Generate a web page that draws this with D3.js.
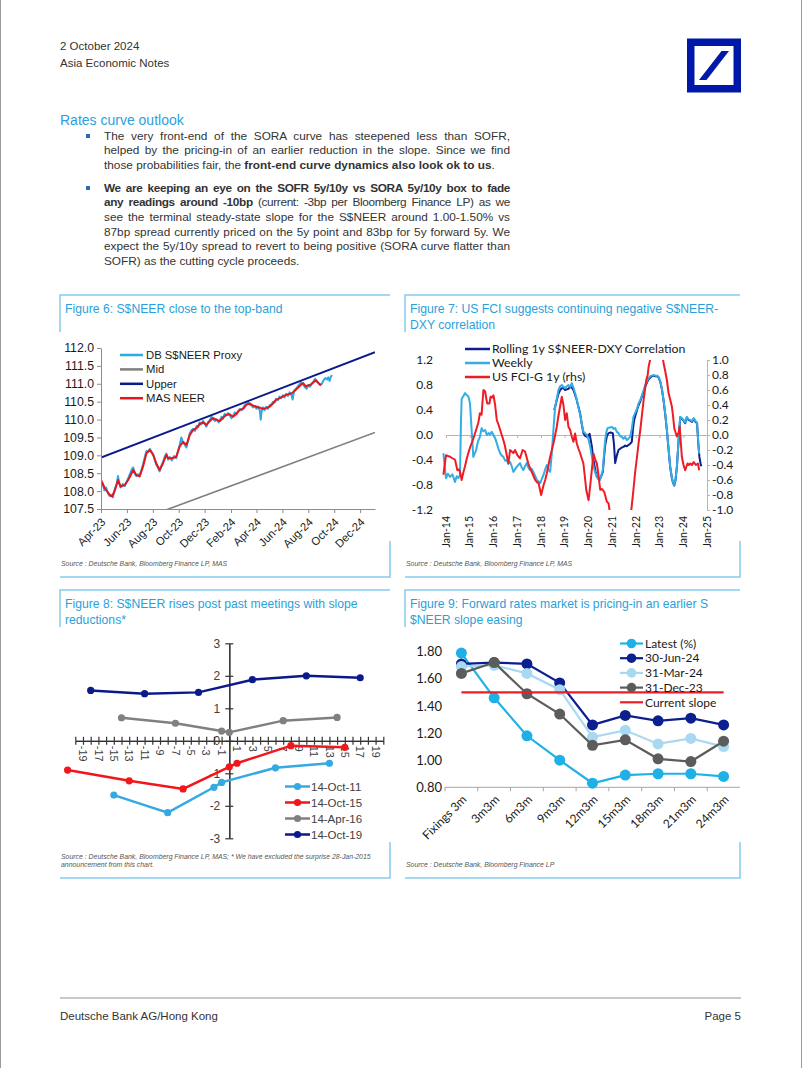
<!DOCTYPE html>
<html>
<head>
<meta charset="utf-8">
<script src="https://cdn.jsdelivr.net/npm/d3@7"></script>
<style>
  body { margin: 0; background: #fff; }
  #page { position: relative; width: 802px; height: 1068px; overflow: hidden;
          font-family: "Liberation Sans", Arial, sans-serif; color: #333; }
  #page svg { position: absolute; left: 0; top: 0; }
  .line { position: absolute; left: 104px; width: 406px; font-size: 11.8px; line-height: 14.7px;
          height: 14.7px; text-align: justify; text-align-last: justify; color: #333; }
  .line.last { text-align-last: left; }
  .line.tight { letter-spacing: -0.35px; }
  .bullet { position: absolute; left: 86px; width: 4px; height: 4px; background: #2d6db5; }
</style>
</head>
<body>
<div id="page">
  <svg id="chart" width="802" height="1068"></svg>

  <div class="bullet" style="top:134px"></div>
  <div class="line" style="top:128.6px">The very front-end of the SORA curve has steepened less than SOFR,</div>
  <div class="line" style="top:143.3px">helped by the pricing-in of an earlier reduction in the slope. Since we find</div>
  <div class="line last" style="top:158px">those probabilities fair, the <b>front-end curve dynamics also look ok to us</b>.</div>

  <div class="bullet" style="top:186px"></div>
  <div class="line tight" style="top:180.6px"><b>We are keeping an eye on the SOFR 5y/10y vs SORA 5y/10y box to fade</b></div>
  <div class="line tight" style="top:195.3px"><b>any readings around -10bp</b> (current: -3bp per Bloomberg Finance LP) as we</div>
  <div class="line" style="top:210px">see the terminal steady-state slope for the S$NEER around 1.00-1.50% vs</div>
  <div class="line" style="top:224.7px">87bp spread currently priced on the 5y point and 83bp for 5y forward 5y. We</div>
  <div class="line" style="top:239.4px">expect the 5y/10y spread to revert to being positive (SORA curve flatter than</div>
  <div class="line last" style="top:254.1px">SOFR) as the cutting cycle proceeds.</div>
</div>

<script>
// ---------- Figure 6 data: S$NEER vs policy band ----------
const fig6Proxy = [
  ["2023-04-01",108.28],["2023-04-05",108.20],["2023-04-09",108.02],["2023-04-13",108.10],["2023-04-18",107.92],
  ["2023-04-22",107.86],["2023-04-26",107.90],["2023-04-29",107.83],["2023-05-04",108.08],["2023-05-08",108.20],
  ["2023-05-11",108.42],["2023-05-14",108.22],["2023-05-17",108.10],["2023-05-22",108.20],["2023-05-27",108.14],
  ["2023-05-31",108.26],["2023-06-04",108.36],["2023-06-09",108.50],["2023-06-13",108.62],["2023-06-16",108.66],
  ["2023-06-20",108.48],["2023-06-23",108.42],["2023-06-27",108.47],["2023-07-01",108.44],["2023-07-05",108.58],
  ["2023-07-09",108.75],["2023-07-13",108.95],["2023-07-17",109.12],["2023-07-21",109.10],["2023-07-25",109.18],
  ["2023-07-29",109.10],["2023-08-02",109.02],["2023-08-05",108.90],["2023-08-09",108.74],["2023-08-13",108.66],
  ["2023-08-17",108.55],["2023-08-21",108.70],["2023-08-25",108.82],["2023-08-29",108.96],["2023-09-02",109.05],
  ["2023-09-06",108.88],["2023-09-10",108.95],["2023-09-15",108.86],["2023-09-20",108.98],["2023-09-25",108.92],
  ["2023-09-29",109.10],["2023-10-03",109.28],["2023-10-07",109.50],["2023-10-11",109.36],["2023-10-15",109.30],
  ["2023-10-19",109.22],["2023-10-23",109.40],["2023-10-27",109.62],["2023-10-31",109.70],["2023-11-04",109.74],
  ["2023-11-08",109.68],["2023-11-12",109.82],["2023-11-16",109.80],["2023-11-19",109.92],["2023-11-23",109.86],
  ["2023-11-27",109.96],["2023-12-01",109.90],["2023-12-05",109.80],["2023-12-09",109.92],["2023-12-13",109.98],
  ["2023-12-17",110.08],["2023-12-21",110.02],["2023-12-25",109.96],["2023-12-29",110.01],["2024-01-03",109.92],
  ["2024-01-06",109.98],["2024-01-10",110.08],["2024-01-13",110.02],["2024-01-17",110.16],["2024-01-21",110.12],
  ["2024-01-25",110.18],["2024-01-29",110.12],["2024-02-02",110.04],["2024-02-06",110.10],["2024-02-10",110.20],
  ["2024-02-14",110.14],["2024-02-18",110.24],["2024-02-22",110.30],["2024-02-26",110.26],["2024-03-01",110.34],
  ["2024-03-04",110.40],["2024-03-08",110.44],["2024-03-12",110.50],["2024-03-16",110.42],["2024-03-20",110.40],
  ["2024-03-24",110.34],["2024-03-28",110.38],["2024-04-01",110.30],["2024-04-05",110.36],["2024-04-09",110.24],
  ["2024-04-11",110.00],["2024-04-13",110.22],["2024-04-16",110.34],["2024-04-20",110.26],["2024-04-24",110.36],
  ["2024-04-28",110.30],["2024-05-02",110.40],["2024-05-06",110.42],["2024-05-10",110.50],["2024-05-14",110.48],
  ["2024-05-17",110.58],["2024-05-21",110.54],["2024-05-25",110.64],["2024-05-29",110.60],["2024-06-02",110.68],
  ["2024-06-06",110.62],["2024-06-10",110.72],["2024-06-14",110.66],["2024-06-18",110.76],["2024-06-22",110.70],
  ["2024-06-25",110.56],["2024-06-29",110.82],["2024-07-03",110.86],["2024-07-07",110.92],["2024-07-11",110.98],
  ["2024-07-15",111.04],["2024-07-20",110.98],["2024-07-24",110.90],["2024-07-28",110.86],["2024-08-01",110.96],
  ["2024-08-05",110.92],["2024-08-09",111.00],["2024-08-13",111.06],["2024-08-17",111.14],["2024-08-21",111.06],
  ["2024-08-25",111.02],["2024-08-29",110.98],["2024-09-02",111.00],["2024-09-06",111.10],["2024-09-10",111.16],
  ["2024-09-14",111.12],["2024-09-17",111.18],["2024-09-20",111.08],["2024-09-23",111.20],["2024-09-26",111.24]
];
const fig6Mas = [
  ["2023-04-01",108.31],["2023-04-10",108.08],["2023-04-22",107.89],["2023-04-27",107.85],["2023-05-04",108.03],
  ["2023-05-11",108.31],["2023-05-17",108.13],["2023-05-27",108.17],["2023-06-04",108.31],["2023-06-16",108.59],
  ["2023-06-23",108.45],["2023-07-01",108.41],["2023-07-09",108.69],["2023-07-17",109.06],["2023-07-25",109.15],
  ["2023-08-02",109.01],["2023-08-09",108.78],["2023-08-17",108.59],["2023-08-25",108.78],["2023-09-02",109.01],
  ["2023-09-06",108.92],["2023-09-15",108.92],["2023-09-25",108.96],["2023-10-03",109.24],["2023-10-11",109.38],
  ["2023-10-19",109.29],["2023-10-27",109.57],["2023-11-04",109.71],["2023-11-12",109.76],["2023-11-19",109.87],
  ["2023-11-27",109.92],["2023-12-05",109.85],["2023-12-13",109.96],["2023-12-21",110.04],["2023-12-29",109.99],
  ["2024-01-06",109.96],["2024-01-13",110.05],["2024-01-21",110.13],["2024-01-29",110.15],["2024-02-06",110.08],
  ["2024-02-14",110.17],["2024-02-22",110.27],["2024-03-01",110.30],["2024-03-08",110.41],["2024-03-16",110.45],
  ["2024-03-24",110.39],["2024-04-01",110.36],["2024-04-09",110.33],["2024-04-16",110.30],["2024-04-24",110.32],
  ["2024-05-02",110.36],["2024-05-10",110.45],["2024-05-17",110.55],["2024-05-25",110.59],["2024-06-02",110.64],
  ["2024-06-10",110.69],["2024-06-22",110.73],["2024-06-29",110.79],["2024-07-11",110.93],["2024-07-20",111.02],
  ["2024-07-26",110.93],["2024-08-07",110.98],["2024-08-19",111.10],["2024-08-27",110.99],["2024-08-31",110.95]
];
const fig6Upper = [["2023-04-01",108.94],["2025-01-05",111.88]];
const fig6Mid = [["2023-04-01",106.80],["2025-01-05",109.64]];
const fig6XTicks = ["2023-04-01","2023-06-01","2023-08-01","2023-10-01","2023-12-01","2024-02-01",
                    "2024-04-01","2024-06-01","2024-08-01","2024-10-01","2024-12-01"];
const fig6YTicks = [107.5,108.0,108.5,109.0,109.5,110.0,110.5,111.0,111.5,112.0];

// ---------- Figure 7 data: correlation vs US FCI (decimal years) ----------
const fig7Rolling = [
  [2018.56,0.40],[2018.60,0.45],[2018.67,0.56],[2018.74,0.66],[2018.81,0.72],[2018.88,0.75],[2018.95,0.75],
  [2019.02,0.72],[2019.09,0.73],[2019.16,0.74],[2019.23,0.77],[2019.30,0.76],[2019.37,0.72],[2019.44,0.64],
  [2019.51,0.56],[2019.58,0.45],[2019.65,0.35],[2019.72,0.18],[2019.79,0.03],[2019.86,-0.01],[2019.94,-0.03],
  [2020.01,0.00],[2020.05,0.02],[2020.10,-0.08],[2020.15,-0.19],[2020.20,-0.38],[2020.24,-0.45],[2020.30,-0.58],
  [2020.36,-0.67],[2020.42,-0.70],[2020.47,-0.72],[2020.54,-0.66],[2020.61,-0.59],[2020.66,-0.36],[2020.71,-0.16],
  [2020.78,-0.02],[2020.85,0.03],[2020.94,0.04],[2021.03,0.03],[2021.08,-0.15],[2021.13,-0.45],[2021.20,-0.33],
  [2021.27,-0.24],[2021.34,-0.22],[2021.41,-0.20],[2021.48,-0.19],[2021.55,-0.17],[2021.62,-0.18],[2021.69,-0.16],
  [2021.76,-0.14],[2021.83,-0.11],[2021.88,0.10],[2021.93,0.24],[2021.99,0.32],[2022.05,0.40],[2022.12,0.48],
  [2022.19,0.54],[2022.26,0.62],[2022.33,0.69],[2022.40,0.78],[2022.47,0.84],[2022.54,0.89],[2022.61,0.92],
  [2022.68,0.94],[2022.75,0.95],[2022.82,0.94],[2022.89,0.94],[2022.96,0.92],[2023.03,0.85],[2023.10,0.73],
  [2023.17,0.55],[2023.24,0.33],[2023.31,0.07],[2023.38,-0.23],[2023.45,-0.52],[2023.52,-0.69],[2023.57,-0.77],
  [2023.62,-0.81],[2023.67,-0.73],[2023.73,-0.52],[2023.80,-0.11],[2023.87,0.28],[2023.94,0.26],[2024.01,0.23],
  [2024.08,0.19],[2024.15,0.28],[2024.22,0.24],[2024.30,0.23],[2024.37,0.21],[2024.44,0.26],[2024.52,0.21],
  [2024.58,0.19],[2024.63,-0.12],[2024.68,-0.35],[2024.73,-0.46],[2024.76,-0.50]
];
const fig7Weekly = [
  [2013.89,-0.29],[2014.00,-0.69],[2014.08,-0.62],[2014.17,-0.67],[2014.27,-0.63],[2014.38,-0.75],[2014.45,-0.66],
  [2014.52,-0.69],[2014.59,-0.64],[2014.63,0.20],[2014.66,0.58],[2014.73,0.62],[2014.80,0.67],[2014.87,0.64],
  [2014.94,0.62],[2015.01,0.51],[2015.08,0.08],[2015.15,-0.35],[2015.21,-0.30],[2015.27,-0.24],[2015.35,-0.10],
  [2015.43,-0.03],[2015.50,0.11],[2015.57,0.06],[2015.65,0.08],[2015.72,0.00],[2015.79,0.03],[2015.86,0.01],
  [2015.93,0.05],[2016.00,0.00],[2016.07,-0.05],[2016.14,-0.13],[2016.21,-0.22],[2016.28,-0.29],[2016.35,-0.33],
  [2016.42,-0.35],[2016.49,-0.41],[2016.56,-0.40],[2016.63,-0.46],[2016.70,-0.43],[2016.77,-0.50],[2016.84,-0.59],
  [2016.91,-0.55],[2016.98,-0.51],[2017.05,-0.48],[2017.12,-0.45],[2017.19,-0.52],[2017.26,-0.56],[2017.33,-0.50],
  [2017.40,-0.45],[2017.47,-0.52],[2017.54,-0.56],[2017.61,-0.54],[2017.68,-0.59],[2017.76,-0.66],[2017.83,-0.72],
  [2017.90,-0.74],[2017.97,-0.77],[2018.04,-0.70],[2018.11,-0.64],[2018.18,-0.55],[2018.25,-0.48],[2018.32,-0.56],
  [2018.39,-0.59],[2018.46,-0.29],[2018.53,0.10],[2018.60,0.45],[2018.67,0.58],[2018.74,0.72],[2018.81,0.78],
  [2018.88,0.80],[2018.95,0.77],[2019.02,0.75],[2019.09,0.78],[2019.16,0.80],[2019.23,0.77],[2019.30,0.83],
  [2019.37,0.76],[2019.44,0.67],[2019.51,0.57],[2019.58,0.45],[2019.65,0.33],[2019.72,0.19],[2019.79,0.05],
  [2019.86,0.03],[2019.94,0.00],[2020.01,-0.08],[2020.08,-0.19],[2020.15,-0.35],[2020.22,-0.51],[2020.29,-0.60],
  [2020.36,-0.67],[2020.42,-0.70],[2020.47,-0.72],[2020.54,-0.66],[2020.61,-0.56],[2020.66,-0.30],[2020.71,-0.08],
  [2020.76,0.05],[2020.81,0.11],[2020.90,0.12],[2020.99,0.13],[2021.06,0.10],[2021.13,0.11],[2021.20,0.05],
  [2021.27,0.03],[2021.34,-0.02],[2021.41,-0.03],[2021.48,-0.06],[2021.55,-0.03],[2021.62,-0.08],[2021.69,-0.06],
  [2021.76,-0.03],[2021.83,0.10],[2021.90,0.29],[2021.97,0.35],[2022.05,0.42],[2022.12,0.51],[2022.19,0.56],
  [2022.26,0.64],[2022.33,0.72],[2022.40,0.80],[2022.47,0.86],[2022.54,0.91],[2022.61,0.94],[2022.68,0.95],
  [2022.75,0.96],[2022.82,0.95],[2022.89,0.95],[2022.96,0.93],[2023.03,0.86],[2023.10,0.74],[2023.17,0.56],
  [2023.24,0.34],[2023.31,0.08],[2023.38,-0.22],[2023.45,-0.51],[2023.52,-0.68],[2023.57,-0.76],[2023.62,-0.80],
  [2023.67,-0.72],[2023.73,-0.51],[2023.80,-0.10],[2023.87,0.29],[2023.94,0.27],[2024.01,0.24],[2024.08,0.20],
  [2024.15,0.29],[2024.22,0.25],[2024.30,0.24],[2024.37,0.22],[2024.44,0.27],[2024.52,0.22],[2024.58,0.20],
  [2024.63,-0.10],[2024.67,-0.30]
];
const fig7Fci = [
  [2013.89,-0.53],[2014.00,-0.27],[2014.08,-0.28],[2014.17,-0.29],[2014.27,-0.31],[2014.38,-0.33],[2014.48,-0.47],
  [2014.55,-0.46],[2014.59,-0.49],[2014.66,-0.60],[2014.73,-0.50],[2014.80,-0.42],[2014.87,-0.32],[2014.94,-0.24],
  [2015.01,-0.17],[2015.08,-0.11],[2015.15,-0.05],[2015.22,0.02],[2015.29,0.09],[2015.36,0.16],[2015.43,0.29],
  [2015.50,0.27],[2015.54,0.45],[2015.58,0.60],[2015.65,0.58],[2015.70,0.48],[2015.74,0.42],[2015.83,0.42],
  [2015.88,0.51],[2015.94,0.50],[2016.00,0.53],[2016.07,0.40],[2016.14,0.20],[2016.21,0.14],[2016.28,0.07],
  [2016.35,0.00],[2016.42,-0.07],[2016.48,-0.14],[2016.53,-0.22],[2016.63,-0.38],[2016.70,-0.20],[2016.77,-0.22],
  [2016.84,-0.24],[2016.91,-0.20],[2017.01,-0.27],[2017.12,-0.31],[2017.23,-0.20],[2017.33,-0.22],[2017.40,-0.30],
  [2017.47,-0.38],[2017.54,-0.44],[2017.61,-0.49],[2017.68,-0.54],[2017.76,-0.60],[2017.83,-0.63],[2017.90,-0.64],
  [2018.01,-0.80],[2018.11,-0.67],[2018.18,-0.60],[2018.25,-0.51],[2018.32,-0.40],[2018.39,-0.29],[2018.46,-0.20],
  [2018.53,-0.11],[2018.60,0.00],[2018.67,0.11],[2018.72,0.22],[2018.78,0.33],[2018.88,0.51],[2018.95,0.40],
  [2019.02,0.20],[2019.09,0.29],[2019.16,0.11],[2019.23,0.07],[2019.30,-0.02],[2019.37,-0.09],[2019.44,0.02],
  [2019.51,-0.11],[2019.58,-0.18],[2019.65,-0.24],[2019.72,-0.31],[2019.79,-0.38],[2019.85,-0.55],[2019.91,-0.73],
  [2020.01,-0.87],[2020.08,-0.67],[2020.15,-0.45],[2020.22,-0.25],[2020.29,-0.33],[2020.36,-0.38],[2020.43,-0.55],
  [2020.50,-0.73],[2020.58,-0.72],[2020.67,-0.76],[2020.78,-0.89],[2020.85,-0.91],[2020.95,-1.13],[2021.10,-1.40],
  [2021.35,-1.55],[2021.60,-1.40],[2021.75,-1.10],[2021.81,-1.00],[2021.90,-0.73],[2021.97,-0.50],[2022.05,-0.29],
  [2022.12,-0.10],[2022.19,0.07],[2022.26,0.27],[2022.33,0.47],[2022.44,0.73],[2022.50,0.80],[2022.54,0.91],
  [2022.60,1.00],[2022.64,1.09],[2022.80,1.40],[2022.95,1.35],[2023.06,1.20],[2023.11,1.09],[2023.17,0.96],
  [2023.24,0.85],[2023.31,0.73],[2023.38,0.56],[2023.45,0.47],[2023.52,0.38],[2023.57,0.25],[2023.62,0.09],
  [2023.73,-0.02],[2023.80,0.03],[2023.85,0.11],[2023.94,-0.29],[2024.01,-0.40],[2024.08,-0.47],[2024.18,-0.38],
  [2024.24,-0.40],[2024.30,-0.38],[2024.37,-0.40],[2024.44,-0.36],[2024.53,-0.40],[2024.62,-0.38],[2024.67,-0.47]
];
const fig7Years = [2014,2015,2016,2017,2018,2019,2020,2021,2022,2023,2024,2025];
const fig7LeftTicks = [-1.2,-0.8,-0.4,0.0,0.4,0.8,1.2];
const fig7RightTicks = [-1.0,-0.8,-0.6,-0.4,-0.2,0.0,0.2,0.4,0.6,0.8,1.0];

// ---------- Figure 8 data: S$NEER around MAS meetings (days, %) ----------
const oct11 = [[-15,-1.67],[-8,-2.21],[-2,-1.43],[-1,-1.28],[6,-0.83],[13,-0.69]];
const oct15 = [[-21,-0.90],[-13,-1.23],[-6,-1.48],[0,-0.80],[1,-0.69],[8,-0.15],[15,-0.20]];
const apr16 = [[-14,0.71],[-7,0.54],[-1,0.30],[0,0.26],[7,0.62],[14,0.72]];
const oct19 = [[-18,1.55],[-11,1.45],[-4,1.49],[3,1.88],[10,2.00],[17,1.94]];
const fig8Days = [-20,-19,-18,-17,-16,-15,-14,-13,-12,-11,-10,-9,-8,-7,-6,-5,-4,-3,-2,-1,0,
                  1,2,3,4,5,6,7,8,9,10,11,12,13,14,15,16,17,18,19,20];
const fig8DayLabels = [-19,-17,-15,-13,-11,-9,-7,-5,-3,-1,1,3,5,7,9,11,13,15,17,19];
const fig8YTicks = [-3,-2,-1,0,1,2,3];

// ---------- Figure 9 data: forward slope pricing ----------
const fig9Cats = ["Fixings 3m","3m3m","6m3m","9m3m","12m3m","15m3m","18m3m","21m3m","24m3m"];
const latest = [1.79,1.46,1.18,1.00,0.83,0.89,0.90,0.90,0.88];
const jun24 = [1.71,1.72,1.71,1.57,1.26,1.33,1.29,1.31,1.26];
const mar24 = [1.69,1.70,1.64,1.52,1.17,1.22,1.12,1.16,1.10];
const dec23 = [1.64,1.72,1.49,1.34,1.11,1.15,1.01,0.99,1.14];
const currentSlope = [1.50,1.50,1.50,1.50,1.50,1.50,1.50,1.50,1.50];
const fig9YTicks = [0.80,1.00,1.20,1.40,1.60,1.80];

// ---------- page chrome ----------
const svg = d3.select("#chart");
const arial = "'Liberation Sans', Arial, sans-serif";
const lato = "Lato, 'Liberation Sans', sans-serif";
const titleBlue = "#2b9fd9";
const frameBlue = "#86cbec";

// page side rules
svg.append("line").attr("x1", 0.5).attr("x2", 0.5).attr("y1", 0).attr("y2", 1068).attr("stroke", "#9a9a9a");
svg.append("line").attr("x1", 801.5).attr("x2", 801.5).attr("y1", 0).attr("y2", 1068).attr("stroke", "#9a9a9a");

// header
svg.append("text").attr("x", 60).attr("y", 50).text("2 October 2024")
  .style("font", `11.5px ${arial}`).attr("fill", "#333");
svg.append("text").attr("x", 60).attr("y", 67).text("Asia Economic Notes")
  .style("font", `11.5px ${arial}`).attr("fill", "#333");

// logo
svg.append("rect").attr("x", 687).attr("y", 38.5).attr("width", 54).attr("height", 54).attr("fill", "#0018a8");
svg.append("rect").attr("x", 694.5).attr("y", 46).attr("width", 39).attr("height", 39).attr("fill", "#fff");
svg.append("polygon").attr("points", "699,80 706.5,80 729,51 721.5,51").attr("fill", "#0018a8");

svg.append("text").attr("x", 60).attr("y", 125).text("Rates curve outlook")
  .style("font", `14px ${arial}`).attr("fill", "#2ea0dc");

// footer
svg.append("line").attr("x1", 60).attr("x2", 741).attr("y1", 998).attr("y2", 998)
  .attr("stroke", "#c8c8c8").attr("stroke-width", 2);
svg.append("text").attr("x", 60).attr("y", 1020).text("Deutsche Bank AG/Hong Kong")
  .style("font", `11.5px ${arial}`).attr("fill", "#333");
svg.append("text").attr("x", 741).attr("y", 1020).attr("text-anchor", "end").text("Page 5")
  .style("font", `11.5px ${arial}`).attr("fill", "#333");

// figure frame: top rule + short left tick, bottom rule + short right tick
function frame(x0, x1, top, bottom, titleLines, sourceLines) {
  let g = svg.append("g");
  g.append("path")
    .attr("d", `M${x0},${top + 37}V${top}H${x1}M${x0},${bottom}H${x1}V${bottom - 36}`)
    .attr("fill", "none").attr("stroke", frameBlue).attr("stroke-width", 1.5);
  titleLines.forEach((t, i) => {
    g.append("text").attr("x", x0 + 5).attr("y", top + 18 + i * 15.5).text(t)
      .style("font", `12.2px ${arial}`).attr("fill", titleBlue);
  });
  sourceLines.forEach((t, i) => {
    g.append("text").attr("x", x0 + 1).attr("y", bottom - 11 - (sourceLines.length - 1 - i) * 8).text(t)
      .style("font", `italic 6.9px ${arial}`).attr("fill", "#555");
  });
}
frame(60, 390, 295, 577, ["Figure 6: S$NEER close to the top-band"],
  ["Source : Deutsche Bank, Bloomberg Finance LP, MAS"]);
frame(405, 740, 295, 577, ["Figure 7: US FCI suggests continuing negative S$NEER-", "DXY correlation"],
  ["Source : Deutsche Bank, Bloomberg Finance LP, MAS"]);
frame(60, 390, 590, 878, ["Figure 8: S$NEER rises post past meetings with slope", "reductions*"],
  ["Source : Deutsche Bank, Bloomberg Finance LP, MAS; * We have excluded the surprise 28-Jan-2015",
   "announcement from this chart."]);
frame(405, 740, 590, 878, ["Figure 9: Forward rates market is pricing-in an earlier S", "$NEER slope easing"],
  ["Source : Deutsche Bank, Bloomberg Finance LP"]);

// shared axis styling
function styleAxis(g, font) {
  g.selectAll(".domain").attr("stroke", "#8c8c8c");
  g.selectAll(".tick line").attr("stroke", "#8c8c8c");
  g.selectAll("text").style("font", font).attr("fill", "#1a1a1a");
}

// ---------- Figure 6 ----------
(function () {
  let parse = d3.timeParse("%Y-%m-%d");
  let g = svg.append("g");
  let x = d3.scaleTime().domain([parse("2023-04-01"), parse("2025-01-05")]).range([101, 375]);
  let y = d3.scaleLinear().domain([107.5, 112]).range([509, 348]);

  g.append("clipPath").attr("id", "clip6").append("rect")
    .attr("x", 101).attr("y", 348).attr("width", 274).attr("height", 161);

  let line = d3.line().x(d => x(parse(d[0]))).y(d => y(d[1]));
  let series = [
    {name: "DB S$NEER Proxy", data: fig6Proxy, color: "#2ea9e2", w: 2},
    {name: "Mid", data: fig6Mid, color: "#7f7f7f", w: 1.6},
    {name: "Upper", data: fig6Upper, color: "#0a1a8c", w: 2},
    {name: "MAS NEER", data: fig6Mas, color: "#e8161a", w: 2}
  ];
  series.forEach(s => {
    g.append("path").datum(s.data).attr("d", line).attr("clip-path", "url(#clip6)")
      .attr("fill", "none").attr("stroke", s.color).attr("stroke-width", s.w).attr("stroke-linejoin", "round");
  });

  let yAxis = g.append("g").attr("transform", "translate(101,0)")
    .call(d3.axisLeft(y).tickValues(fig6YTicks).tickFormat(d => d.toFixed(1)).tickSize(4).tickSizeOuter(0));
  styleAxis(yAxis, `12.3px ${arial}`);

  let xAxis = g.append("g").attr("transform", "translate(0,509)")
    .call(d3.axisBottom(x).tickValues(fig6XTicks.map(parse)).tickFormat(d3.timeFormat("%b-%y")).tickSize(4).tickSizeOuter(0));
  styleAxis(xAxis, `11.3px ${arial}`);
  xAxis.selectAll("text").attr("x", 0).attr("y", 0).attr("dy", "0.35em")
    .attr("transform", "translate(2,11) rotate(-45)").style("text-anchor", "end");

  series.forEach((s, i) => {
    let ly = 355 + i * 14.4;
    g.append("line").attr("x1", 120).attr("x2", 143).attr("y1", ly).attr("y2", ly)
      .attr("stroke", s.color).attr("stroke-width", 2.5);
    g.append("text").attr("x", 146).attr("y", ly).attr("dy", "0.35em").text(s.name)
      .style("font", `11.3px ${arial}`).attr("fill", "#1a1a1a");
  });
})();

// ---------- Figure 7 ----------
(function () {
  let g = svg.append("g");
  let x = d3.scaleLinear().domain([2014, 2025]).range([446, 707]);
  let yL = d3.scaleLinear().domain([-1.2, 1.2]).range([510, 360]);
  let yR = d3.scaleLinear().domain([-1, 1]).range([510, 360]);

  g.append("clipPath").attr("id", "clip7").append("rect")
    .attr("x", 430).attr("y", 360).attr("width", 277).attr("height", 150);

  // zero line with year ticks
  let xAxis = g.append("g").attr("transform", `translate(0,${yL(0)})`)
    .call(d3.axisBottom(x).tickValues(fig7Years).tickFormat("").tickSize(3).tickSizeOuter(0));
  styleAxis(xAxis, `10px ${lato}`);
  xAxis.selectAll(".domain").attr("stroke", "#b5b5b5");
  xAxis.selectAll(".tick line").attr("stroke", "#b5b5b5");

  // year labels at the bottom, rotated
  g.selectAll(".yr").data(fig7Years).join("text")
    .attr("transform", d => `translate(${x(d)},516) rotate(-90)`)
    .attr("dy", "0.35em").attr("text-anchor", "end")
    .text(d => "Jan-" + String(d).slice(2))
    .style("font", `10.5px ${lato}`).attr("fill", "#1a1a1a");

  let left = g.append("g").attr("transform", "translate(436,0)")
    .call(d3.axisLeft(yL).tickValues(fig7LeftTicks).tickFormat(d => d.toFixed(1)).tickSize(0).tickPadding(3));
  styleAxis(left, `12px ${lato}`);
  left.select(".domain").remove();

  let right = g.append("g").attr("transform", "translate(707,0)")
    .call(d3.axisRight(yR).tickValues(fig7RightTicks).tickFormat(d => d.toFixed(1)).tickSize(3).tickSizeOuter(0).tickPadding(2));
  styleAxis(right, `12px ${lato}`);
  right.selectAll(".domain").attr("stroke", "#b5b5b5");
  right.selectAll(".tick line").attr("stroke", "#b5b5b5");

  let lineL = d3.line().x(d => x(d[0])).y(d => yL(d[1]));
  let lineR = d3.line().x(d => x(d[0])).y(d => yR(d[1]));
  let series = [
    {name: "Rolling 1y S$NEER-DXY Correlation", data: fig7Rolling, color: "#0d1f8f", gen: lineL},
    {name: "Weekly", data: fig7Weekly, color: "#33ade4", gen: lineL},
    {name: "US FCI-G 1y (rhs)", data: fig7Fci, color: "#ee1c25", gen: lineR}
  ];
  series.forEach(s => {
    g.append("path").datum(s.data).attr("d", s.gen).attr("clip-path", "url(#clip7)")
      .attr("fill", "none").attr("stroke", s.color).attr("stroke-width", 2).attr("stroke-linejoin", "round");
  });

  series.forEach((s, i) => {
    let ly = 349 + i * 14;
    g.append("line").attr("x1", 465).attr("x2", 490).attr("y1", ly).attr("y2", ly)
      .attr("stroke", s.color).attr("stroke-width", 2.5);
    g.append("text").attr("x", 492).attr("y", ly).attr("dy", "0.35em").text(s.name)
      .style("font", `12.3px ${lato}`).attr("fill", "#1a1a1a");
  });
})();

// ---------- Figure 8 ----------
(function () {
  let g = svg.append("g");
  let x = d3.scaleLinear().domain([-20, 20]).range([75.3, 383.3]);
  let y = d3.scaleLinear().domain([-3, 3]).range([838.3, 643.3]);

  // crossing ticks on both axes
  let xa = g.append("g").attr("transform", `translate(0,${y(0)})`)
    .call(d3.axisBottom(x).tickValues(fig8Days).tickFormat("").tickSize(4).tickSizeOuter(0));
  let xb = g.append("g").attr("transform", `translate(0,${y(0)})`)
    .call(d3.axisTop(x).tickValues(fig8Days).tickFormat("").tickSize(4).tickSizeOuter(0));
  [xa, xb].forEach(a => { a.selectAll(".domain, .tick line").attr("stroke", "#333").attr("stroke-width", 1.2); });

  g.selectAll(".day").data(fig8DayLabels).join("text")
    .attr("transform", d => `translate(${x(d)},${y(0) + 5}) rotate(90)`)
    .attr("dy", "0.35em").attr("text-anchor", "start").text(d => d)
    .style("font", `10.8px ${arial}`).attr("fill", "#404040");

  let ya = g.append("g").attr("transform", `translate(${x(0)},0)`)
    .call(d3.axisLeft(y).tickValues(fig8YTicks).tickFormat(d => d).tickSize(4).tickSizeOuter(0).tickPadding(5));
  let yb = g.append("g").attr("transform", `translate(${x(0)},0)`)
    .call(d3.axisRight(y).tickValues(fig8YTicks).tickFormat("").tickSize(4).tickSizeOuter(0));
  [ya, yb].forEach(a => { a.selectAll(".domain, .tick line").attr("stroke", "#333").attr("stroke-width", 1.2); });
  ya.selectAll("text").style("font", `12px ${arial}`).attr("fill", "#404040");

  let line = d3.line().x(d => x(d[0])).y(d => y(d[1]));
  let series = [
    {name: "14-Oct-11", data: oct11, color: "#35a9e1"},
    {name: "14-Oct-15", data: oct15, color: "#f0161b"},
    {name: "14-Apr-16", data: apr16, color: "#808080"},
    {name: "14-Oct-19", data: oct19, color: "#0b1a8a"}
  ];
  series.forEach(s => {
    g.append("path").datum(s.data).attr("d", line)
      .attr("fill", "none").attr("stroke", s.color).attr("stroke-width", 2.5);
    g.selectAll(null).data(s.data).join("circle")
      .attr("cx", d => x(d[0])).attr("cy", d => y(d[1])).attr("r", 3.6).attr("fill", s.color);
  });

  series.forEach((s, i) => {
    let ly = 786.5 + i * 16;
    g.append("line").attr("x1", 285).attr("x2", 310).attr("y1", ly).attr("y2", ly)
      .attr("stroke", s.color).attr("stroke-width", 2.5);
    g.append("circle").attr("cx", 297.5).attr("cy", ly).attr("r", 3.6).attr("fill", s.color);
    g.append("text").attr("x", 311).attr("y", ly).attr("dy", "0.35em").text(s.name)
      .style("font", `11.5px ${arial}`).attr("fill", "#404040");
  });
})();

// ---------- Figure 9 ----------
(function () {
  let g = svg.append("g");
  let x = d3.scaleBand().domain(fig9Cats).range([445, 740]);
  let cx = c => x(c) + x.bandwidth() / 2;
  let y = d3.scaleLinear().domain([0.8, 1.8]).range([787.3, 651.7]);

  let left = g.append("g").attr("transform", "translate(446,0)")
    .call(d3.axisLeft(y).tickValues(fig9YTicks).tickFormat(d => d.toFixed(2)).tickSize(0).tickPadding(4));
  styleAxis(left, `13px ${lato}`);
  left.select(".domain").remove();

  // category axis: ticks between categories
  let bounds = fig9Cats.map(c => x(c));
  let xg = g.append("g");
  xg.append("line").attr("x1", 445).attr("x2", 740).attr("y1", y(0.8)).attr("y2", y(0.8)).attr("stroke", "#a6a6a6");
  xg.selectAll(".bt").data(bounds).join("line")
    .attr("x1", d => d).attr("x2", d => d).attr("y1", y(0.8)).attr("y2", y(0.8) + 4).attr("stroke", "#a6a6a6");
  xg.selectAll(".cl").data(fig9Cats).join("text")
    .attr("transform", d => `translate(${cx(d) + 3},${y(0.8) + 10}) rotate(-45)`)
    .attr("dy", "0.35em").attr("text-anchor", "end").text(d => d)
    .style("font", `12px ${lato}`).attr("fill", "#1a1a1a");

  let line = d3.line().x((d, i) => cx(fig9Cats[i])).y(d => y(d));
  let series = [
    {name: "Latest (%)", data: latest, color: "#1fb1e6", marker: true},
    {name: "30-Jun-24", data: jun24, color: "#0b1f8f", marker: true},
    {name: "31-Mar-24", data: mar24, color: "#a9d9f1", marker: true},
    {name: "31-Dec-23", data: dec23, color: "#5c5c5c", marker: true},
    {name: "Current slope", data: currentSlope, color: "#ee1c25", marker: false}
  ];
  series.forEach(s => {
    g.append("path").datum(s.data).attr("d", line)
      .attr("fill", "none").attr("stroke", s.color).attr("stroke-width", 2.2);
    if (s.marker) {
      g.selectAll(null).data(s.data).join("circle")
        .attr("cx", (d, i) => cx(fig9Cats[i])).attr("cy", d => y(d)).attr("r", 5.5).attr("fill", s.color);
    }
  });

  series.forEach((s, i) => {
    let ly = 643.5 + i * 14.7;
    g.append("line").attr("x1", 620).attr("x2", 643).attr("y1", ly).attr("y2", ly)
      .attr("stroke", s.color).attr("stroke-width", 2.2);
    if (s.marker) g.append("circle").attr("cx", 631.5).attr("cy", ly).attr("r", 4.8).attr("fill", s.color);
    g.append("text").attr("x", 645).attr("y", ly).attr("dy", "0.35em").text(s.name)
      .style("font", `12px ${lato}`).attr("fill", "#1a1a1a");
  });
})();
</script>
</body>
</html>
